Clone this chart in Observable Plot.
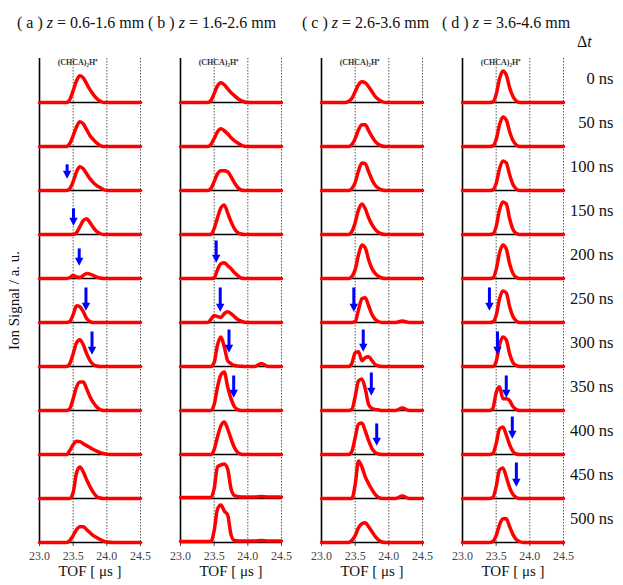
<!DOCTYPE html>
<html>
<head>
<meta charset="utf-8">
<script src="https://cdn.jsdelivr.net/npm/d3@7"></script>
<script src="https://cdn.jsdelivr.net/npm/@observablehq/plot@0.6"></script>
<style>
  body { margin: 0; background: #fff; }
  #wrap { position: relative; width: 623px; height: 585px; font-family: "Liberation Serif", "Times New Roman", serif; color: #111; }
  #wrap svg { position: absolute; left: 0; top: 0; }
  #wrap svg, #wrap svg text { font-family: "Liberation Serif", "Times New Roman", serif !important; }
  .ttl { position: absolute; top: 14px; font-size: 16px; white-space: nowrap; }
  .dt { position: absolute; left: 577px; top: 33px; font-size: 16px; }
  .ylab { position: absolute; left: -51px; top: 292px; width: 130px; text-align: center; font-size: 15px; transform: rotate(-90deg); white-space: nowrap; }
</style>
</head>
<body>
<div id="wrap"></div>
<script>
// ---- data ----
const columns = ["a", "b", "c", "d"];
const zRanges = ["0.6-1.6 mm", "1.6-2.6 mm", "2.6-3.6 mm", "3.6-4.6 mm"];
const delays = ["0 ns", "50 ns", "100 ns", "150 ns", "200 ns", "250 ns", "300 ns", "350 ns", "400 ns", "450 ns", "500 ns"];
const tofTicks = [23.0, 23.5, 24.0, 24.5];
const tofGrid = [23.0, 23.35, 23.40, 23.45, 23.50, 23.55, 23.60, 23.65, 23.70, 23.75, 23.80, 23.85, 23.90, 23.95, 24.00, 24.10, 24.20, 24.30, 24.50];

// ion signal (a.u.) at tofGrid, one row per delay
const colA = [
  [0,0,0,3,12,22,27,25,19,13,8,4,1.5,0,0,0,0,0,0],
  [0,0,0,3,11,20,25,23,17,11,7,3.5,1,0,0,0,0,0,0],
  [0,0,0,2,9,19,24,22,17,12,8,5,3,1,0,0,0,0,0],
  [0,0,0,0,0,2,8,14,16,12,7,3,1,0,0,0,0,0,0],
  [0,0,0,1,3,1.5,1,3,5,4.5,3,1.5,0.5,0,0,0,0,0,0],
  [0,0,0,1,8,17,16,11,4,1,0,0,0,0,0,0,0,0,0],
  [0,0,0,3,13,24,27,22,13,6,2,0.5,0,0,0,0,0,0,0],
  [0,0,0,2,12,24,29,29,22,14,8,3.5,1,0,0,0,0,0,0],
  [0,0,0,4,10,13.5,13,11,9,7,5,3.5,2,1,0.3,0,0,0,0],
  [0,0,0,0,6,26,32,27,19,12,6,2,0.5,0,0,0,0,0,0],
  [0,0,0,2,7,13,16,16,13,10,7,5,3,1.5,0.5,0,0,0,0]
];
const colB = [
  [0,0,0,2,9,17,20,18,14,10,7,4,2,0.5,0,0,0,0,0],
  [0,0,0,2,8,15,18,16,13,9,6,3.5,1.5,0.3,0,0,0,0,0],
  [0,0,0,2,9,17,20,20,19,14,8,3,0.5,0,0,0,0,0,0],
  [0,0,0,0,6,17,27,30,22,13,6,2,0.5,0,0,0,0,0,0],
  [0,0,0,0,0.5,9,15,16,13,10,6,3,0.5,0,0,0,0,0,0],
  [0,0,0,3,7,6,5,9,11,9,6,3,1.5,0.3,0,0,0,0,0],
  [0,0,0,0,4,22,30,20,6,3,1,0.5,0.3,0,0,0,3,0,0],
  [0,0,0,0,6,24,36,39,24,12,4,1,0,0,0,0,0,0,0],
  [0,0,0,0,5,18,29,33,26,16,7,2,0.3,0,0,0,0,0,0],
  [1,1,1,1,10,32,34,35,30,10,3,2,1.5,1.5,1.5,1.5,2,1.5,1.5],
  [1,1,1,1,12,34,38,32,28,8,2,1.5,1.5,1.5,1.5,1.5,2,1.5,1.5]
];
const colC = [
  [0,0,1,4,11,18,21,20,16,11,6,3,1,0,0,0,0,0,0],
  [0,0,0,2,8,17,22,22,16,10,5,2,0.5,0,0,0,0,0,0],
  [0,0,0,2,8,20,28,27,19,11,5,2,0.5,0,0,0,0,0,0],
  [0,0,0,3,12,25,31,26,17,10,5,2,0.5,0,0,0,0,0,0],
  [0,0,0,2,9,24,34,31,19,10,5,2,0.5,0,0,0,0,0,0],
  [0,0,0,0,1,13,24,25,17,8,3,1,0,0,0,0,1.5,0,0],
  [0,0,0,3,14,15,6,9,10,6,2,0.5,0,0,0,0,0,0,0],
  [0,0,0,1,14,30,32,22,6,2,1,0.5,0,0,0,0,2.5,0,0],
  [0,0,0,3,17,31,32,24,14,6,2,0.5,0,0,0,0,0,0,0],
  [0,0,0,0,14,38,32,22,15,9,4,1,0,0,0,0,2.5,0,0],
  [0,0,0,2,7,15,19,20,16,11,6,2.5,0.5,0,0,0,0,0,0]
];
const colD = [
  [0,0,0,0.5,8,24,32,28,15,6,1.5,0,0,0,0,0,0,0,0],
  [0,0,0,0.5,7,22,30,27,15,6,1.5,0,0,0,0,0,0,0,0],
  [0,0,0,0.5,7,22,30,28,16,6,1.5,0,0,0,0,0,0,0,0],
  [0,0,0,0.5,8,25,33,31,16,5,1,0,0,0,0,0,0,0,0],
  [0,0,0,0.5,9,26,34,30,15,5,1,0,0,0,0,0,0,0,0],
  [0,0,0,0.5,7,24,32,30,16,6,1.5,0,0,0,0,0,0,0,0],
  [0,0,0,0,5,22,30,27,13,4,1,0,0,0,0,0,0,0,0],
  [0,0,0,2,18,24,12,12,10,4,1,0,0,0,0,0,0,0,0],
  [0,0,0,1,11,26,28,20,10,3,0.5,0,0,0,0,0,0,0,0],
  [0,0,0,1,12,29,31,22,11,4,1,0,0,0,0,0,0,0,0],
  [0,0,0,1,7,18,24,24,16,8,3,1,0,0,0,0,0,0,0]
];

// blue arrows: column, delay row, TOF position, tip height, top height
const arrowCol = ["a","a","a","a","a","b","b","b","b","c","c","c","c","d","d","d","d","d"];
const arrowRow = [2,3,4,5,6, 4,5,6,7, 5,6,7,8, 5,6,7,8,9];
const arrowTof = [23.41,23.505,23.59,23.69,23.78, 23.53,23.59,23.72,23.79, 23.48,23.62,23.74,23.82, 23.40,23.52,23.65,23.74,23.80];
const arrowTip = [12,9,13,12,12, 16,11,14,13, 11,15,15,9, 12,12,13,16,12];
const arrowTop = [26,26,30,35,35, 38,35,37,35, 35,37,38,31, 35,35,35,38,36];

// ---- build tables ----
const traces = [colA, colB, colC, colD].flatMap((rows, ci) =>
  rows.flatMap((vals, ri) => vals.map((v, k) => ({col: columns[ci], row: ri, tof: tofGrid[k], v}))));
const arrows = arrowCol.map((c, i) => ({col: c, row: arrowRow[i], tof: arrowTof[i], tip: arrowTip[i], top: arrowTop[i]}));
const rowLabels = delays.map((d, i) => ({col: "d", row: i, label: d}));
const topLabels = columns.map(c => ({col: c, row: 0}));
const bottomLabels = columns.map(c => ({col: c, row: 10}));

const downTri = {
  draw(ctx, size) {
    const k = Math.sqrt(size / Math.PI) / 3;
    ctx.moveTo(-4.2 * k, 0);
    ctx.lineTo(4.2 * k, 0);
    ctx.lineTo(0, 8 * k);
    ctx.closePath();
  }
};

const serif = "'Liberation Serif', 'Times New Roman', serif";

const chart = Plot.plot({
  width: 623,
  height: 585,
  marginLeft: 38,
  marginRight: 60,
  marginTop: 54.4,
  marginBottom: 40,
  style: "font-family: 'Liberation Serif', 'Times New Roman', serif; font-size: 12px; color: #444; background: transparent;",
  fx: {domain: columns, paddingInner: 0.285, paddingOuter: 0, axis: null, label: null},
  fy: {domain: d3.range(11), padding: 0, axis: null, label: null},
  x: {domain: [23.0, 24.5], ticks: tofTicks, tickFormat: d3.format(".1f"), tickSize: 4, label: null},
  y: {domain: [0, 44.6], axis: null},
  marks: [
    Plot.ruleX(tofTicks.slice(1), {stroke: "#555", strokeWidth: 1, strokeDasharray: "1.5,1.5"}),
    Plot.ruleX([23.0], {stroke: "#000", strokeWidth: 1.6}),
    Plot.ruleY([0], {stroke: "#000", strokeWidth: 1.6}),
    Plot.line(traces, {x: "tof", y: "v", fx: "col", fy: "row", stroke: "#ff0000", strokeWidth: 3.5, curve: "monotone-x"}),
    Plot.ruleX(arrows, {x: "tof", y1: d => d.tip + 6, y2: "top", fx: "col", fy: "row", stroke: "#0000ff", strokeWidth: 3}),
    Plot.dot(arrows, {x: "tof", y: d => d.tip + 8, fx: "col", fy: "row", r: 3, symbol: downTri, fill: "#0000ff", stroke: "none"}),
    Plot.text(topLabels, {fx: "col", fy: "row", x: () => 23.57, frameAnchor: "top", dy: 1, text: () => "(CHCA)₂H⁺", fontSize: 8, fontWeight: "bold", fontFamily: serif, fill: "#333"}),
    Plot.text(bottomLabels, {fx: "col", fy: "row", frameAnchor: "bottom", dy: 33, text: () => "TOF [ μs ]", fontSize: 15, fontFamily: serif, fill: "#111"}),
    Plot.text(rowLabels, {fx: "col", fy: "row", frameAnchor: "right", dx: 50, dy: -2, textAnchor: "end", text: "label", fontSize: 16.5, fontFamily: serif, fill: "#111"})
  ]
});

const wrap = document.getElementById("wrap");
wrap.appendChild(chart);
const titleLeft = [17, 148, 302, 442];
columns.forEach((c, i) => {
  const div = document.createElement("div");
  div.className = "ttl";
  div.style.left = titleLeft[i] + "px";
  div.innerHTML = "( " + c + " ) <i>z</i> = " + zRanges[i];
  wrap.appendChild(div);
});
const dt = document.createElement("div");
dt.className = "dt";
dt.innerHTML = "Δ<i>t</i>";
wrap.appendChild(dt);
const yl = document.createElement("div");
yl.className = "ylab";
yl.textContent = "Ion Signal / a. u.";
wrap.appendChild(yl);
</script>
</body>
</html>
